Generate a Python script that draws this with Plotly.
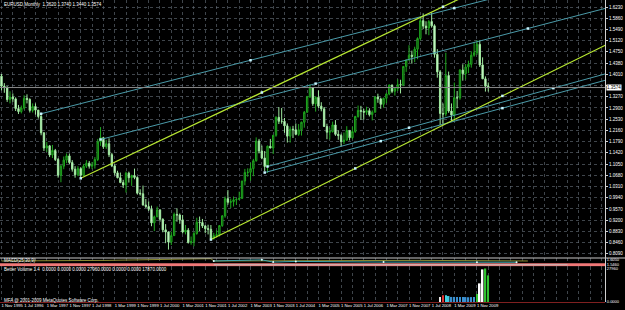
import plotly.graph_objects as go

# ---------------- data (monthly EURUSD, Nov 1995 .. Mar 2010) ----------------
FIRST_MONTH = "1995-11"
OPEN = [1.395,1.362,1.358,1.318,1.326,1.320,1.288,1.278,1.290,1.322,1.318,1.282,1.295,1.283,
        1.262,1.208,1.158,1.165,1.135,1.150,1.120,1.068,1.098,1.118,1.132,1.110,1.088,1.070,
        1.090,1.068,1.098,1.108,1.098,1.102,1.120,1.178,1.192,1.162,1.172,1.136,1.099,1.076,
        1.060,1.044,1.036,1.075,1.060,1.067,1.061,1.009,1.007,0.970,0.965,0.956,0.911,0.931,
        0.954,0.923,0.888,0.881,0.848,0.869,0.939,0.937,0.921,0.881,0.887,0.846,0.849,0.876,
        0.913,0.912,0.901,0.892,0.890,0.860,0.869,0.872,0.902,0.934,0.991,0.979,0.981,0.987,
        0.988,0.992,1.049,1.077,1.078,1.090,1.116,1.181,1.148,1.125,1.097,1.164,1.158,1.200,
        1.259,1.246,1.246,1.231,1.197,1.220,1.218,1.203,1.218,1.243,1.276,1.327,1.357,1.304,
        1.325,1.296,1.287,1.229,1.210,1.212,1.234,1.203,1.199,1.179,1.184,1.216,1.192,1.212,
        1.262,1.282,1.279,1.276,1.281,1.268,1.276,1.326,1.320,1.302,1.322,1.336,1.365,1.345,
        1.354,1.367,1.366,1.427,1.448,1.464,1.460,1.484,1.519,1.578,1.560,1.554,1.575,1.561,
        1.467,1.409,1.272,1.270,1.397,1.280,1.267,1.324,1.323,1.415,1.403,1.425,1.434,1.464,
        1.472,1.500,1.432,1.386,1.362]
HIGH = [1.402,1.372,1.362,1.345,1.338,1.325,1.300,1.298,1.332,1.335,1.322,1.305,1.305,1.275,
        1.268,1.210,1.178,1.168,1.168,1.155,1.125,1.102,1.130,1.140,1.140,1.118,1.098,1.098,
        1.095,1.105,1.118,1.115,1.112,1.128,1.188,1.227,1.195,1.185,1.190,1.142,1.104,1.083,
        1.077,1.053,1.080,1.080,1.070,1.090,1.064,1.022,1.034,0.990,0.982,0.968,0.935,0.965,
        0.955,0.926,0.907,0.882,0.882,0.945,0.959,0.942,0.937,0.904,0.894,0.866,0.882,0.928,
        0.932,0.924,0.904,0.905,0.904,0.878,0.887,0.904,0.937,0.998,1.019,0.991,0.998,0.993,
        1.014,1.050,1.089,1.091,1.109,1.122,1.193,1.188,1.166,1.148,1.166,1.188,1.200,1.263,
        1.293,1.290,1.257,1.239,1.229,1.231,1.239,1.237,1.245,1.280,1.330,1.367,1.358,1.329,
        1.348,1.309,1.293,1.238,1.225,1.245,1.250,1.216,1.205,1.209,1.230,1.217,1.228,1.264,
        1.298,1.297,1.287,1.294,1.289,1.282,1.329,1.337,1.324,1.324,1.340,1.368,1.368,1.355,
        1.385,1.383,1.427,1.450,1.497,1.479,1.492,1.523,1.590,1.602,1.576,1.580,1.604,1.566,
        1.484,1.415,1.305,1.472,1.410,1.305,1.374,1.346,1.418,1.434,1.435,1.446,1.477,1.508,
        1.514,1.513,1.457,1.394,1.374]
LOW = [1.348,1.340,1.310,1.305,1.310,1.280,1.270,1.272,1.285,1.305,1.275,1.275,1.268,1.255,
       1.200,1.148,1.145,1.128,1.125,1.115,1.060,1.045,1.088,1.108,1.105,1.080,1.060,1.065,
       1.058,1.065,1.092,1.090,1.088,1.090,1.115,1.165,1.155,1.155,1.128,1.095,1.068,1.058,
       1.042,1.026,1.011,1.044,1.033,1.055,1.005,1.001,0.968,0.960,0.950,0.900,0.884,0.930,
       0.915,0.880,0.844,0.823,0.838,0.868,0.915,0.908,0.876,0.873,0.843,0.839,0.834,0.872,
       0.884,0.894,0.877,0.873,0.858,0.856,0.862,0.866,0.898,0.928,0.971,0.960,0.965,0.970,
       0.988,0.990,1.035,1.063,1.050,1.065,1.113,1.140,1.121,1.081,1.076,1.157,1.138,1.195,
       1.237,1.238,1.208,1.176,1.176,1.191,1.200,1.198,1.199,1.225,1.274,1.323,1.297,1.278,
       1.290,1.279,1.228,1.187,1.186,1.209,1.198,1.185,1.164,1.171,1.182,1.183,1.187,1.208,
       1.258,1.251,1.251,1.267,1.262,1.249,1.277,1.307,1.287,1.291,1.306,1.332,1.339,1.331,
       1.346,1.338,1.362,1.409,1.447,1.436,1.441,1.451,1.513,1.550,1.533,1.530,1.555,1.456,
       1.390,1.233,1.233,1.262,1.274,1.246,1.246,1.289,1.317,1.380,1.384,1.405,1.423,1.459,
       1.465,1.425,1.386,1.344,1.344]
CLOSE = OPEN[1:] + [1.3574]

# trend lines drawn on the chart: (month, price) pairs, plus months where a handle dot sits
YELLOW_LINES = {
    "yl_upper": [("1998-03", 1.058), ("2010-06", 1.708)],
    "yl_lower": [("2002-01", 0.856), ("2013-09", 1.500)],
}
CYAN_LINES = {
    "cy_top": [("1997-01", 1.271), ("2010-06", 1.655)],
    "cy_mid": [("1998-10", 1.186), ("2013-09", 1.620)],
    "cy_low1": [("2003-09", 1.097), ("2013-09", 1.404)],
    "cy_low2": [("2003-08", 1.077), ("2013-09", 1.383)],
}
LINE_DOTS = {
    "yl_upper": ["1998-03", "2003-07", "2008-11"],
    "yl_lower": ["2002-01", "2006-04", "2010-08"],
    "cy_top": ["1997-01", "2003-03", "2009-03"],
    "cy_mid": ["1998-10", "2005-02", "2011-05"],
    "cy_low1": ["2003-09", "2007-11", "2012-02"],
    "cy_low2": ["2003-08", "2007-01", "2010-08"],
}

PRICE_TICKS = [1.6230, 1.5860, 1.5490, 1.5120, 1.4750, 1.4380, 1.4010, 1.3640, 1.3270, 1.2900,
               1.2530, 1.2160, 1.1790, 1.1420, 1.1050, 1.0680, 1.0310, 0.9940, 0.9570, 0.9200,
               0.8830, 0.8460, 0.8090]
X_LABELS = ["1 Nov 1995", "1 Jul 1996", "1 Mar 1997", "1 Nov 1997", "1 Jul 1998", "1 Mar 1999",
            "1 Nov 1999", "1 Jul 2000", "1 Mar 2001", "1 Nov 2001", "1 Jul 2002", "1 Mar 2003",
            "1 Nov 2003", "1 Jul 2004", "1 Mar 2005", "1 Nov 2005", "1 Jul 2006", "1 Mar 2007",
            "1 Nov 2007", "1 Jul 2008", "1 Mar 2009", "1 Nov 2009"]

# indicator window lines : (month, value)
IND_OLIVE = [("1995-11", 1.585), ("1999-01", 1.592), ("2000-11", 1.605), ("2001-11", 1.612),
             ("2002-01", 1.612), ("2002-02", 1.585), ("2005-01", 1.588), ("2008-03", 1.592),
             ("2011-05", 1.585)]
IND_CYAN = [("2002-02", 1.585), ("2003-07", 1.598), ("2003-11", 1.572), ("2004-07", 1.580),
            ("2007-02", 1.572), ("2009-11", 1.570), ("2011-01", 1.570)]
IND_BASE = 1.540
VOL_MONTHS = ["2008-10", "2008-11", "2008-12", "2009-01", "2009-02", "2009-03", "2009-04",
              "2009-05", "2009-06", "2009-07", "2009-08", "2009-09", "2009-10", "2009-11",
              "2009-12", "2010-01", "2010-02", "2010-03"]
VOLUME = [3300, 4600, 4600, 4000, 3400, 3400, 3400, 3300, 3400, 3300, 3200, 3300, 3300, 5300,
          12500, 21900, 22500, 17870]
VOL_COLORS = ["#e8e8e8", "#e03030", "#40d0e0", "#40c8e0", "#3a90d0", "#3a90d0", "#3a90d0",
              "#3a90d0", "#3a90d0", "#3a90d0", "#3a90d0", "#3a90d0", "#3a90d0", "#30c030",
              "#ffffff", "#ffffff", "#30c030", "#30c030"]


def midx(s):
    y, m = map(int, s.split("-"))
    y0, m0 = map(int, FIRST_MONTH.split("-"))
    return (y - y0) * 12 + (m - m0)


MON = {"Jan": 1, "Feb": 2, "Mar": 3, "Apr": 4, "May": 5, "Jun": 6, "Jul": 7, "Aug": 8,
       "Sep": 9, "Oct": 10, "Nov": 11, "Dec": 12}


def label_idx(lbl):
    _, mon, yr = lbl.split()
    return midx(f"{yr}-{MON[mon]:02d}")


def on_line(pts, month):
    (a, pa), (b, pb) = pts
    xa, xb = midx(a), midx(b)
    t = (midx(month) - xa) / (xb - xa)
    return pa + t * (pb - pa)


N = len(CLOSE)
X = list(range(N))

# ---------------- geometry ----------------
W, H = 625, 310
XR = [-0.53, 213.25]
PLOT_R = 605 / W
Y_MAIN = [0.7952, 1.6461]
GRID = "rgba(105,115,125,0.6)"
FONT = "Liberation Sans"

fig = go.Figure()

fig.add_trace(go.Candlestick(
    x=X, open=OPEN, high=HIGH, low=LOW, close=CLOSE,
    increasing=dict(line=dict(color="#1fa81f", width=1), fillcolor="#0b3a0b"),
    decreasing=dict(line=dict(color="#9ee89e", width=1), fillcolor="#e4ffe4"),
    whiskerwidth=0, hoverinfo="skip", xaxis="x", yaxis="y"))

ALL_LINES = {}
for key, ln in CYAN_LINES.items():
    ALL_LINES[key] = ln
    fig.add_trace(go.Scatter(x=[midx(a) for a, _ in ln], y=[b for _, b in ln], mode="lines",
                             line=dict(color="#4a9aa8", width=1), xaxis="x", yaxis="y",
                             hoverinfo="skip"))
for key, ln in YELLOW_LINES.items():
    ALL_LINES[key] = ln
    fig.add_trace(go.Scatter(x=[midx(a) for a, _ in ln], y=[b for _, b in ln], mode="lines",
                             line=dict(color="#b8e832", width=1.2), xaxis="x", yaxis="y",
                             hoverinfo="skip"))
dx, dy = [], []
for key, months in LINE_DOTS.items():
    for mo in months:
        dx.append(midx(mo))
        dy.append(on_line(ALL_LINES[key], mo))
fig.add_trace(go.Scatter(x=dx, y=dy, mode="markers",
                         marker=dict(symbol="square", size=2.5, color="#c8f4ff"),
                         xaxis="x", yaxis="y", hoverinfo="skip"))

# bid line
fig.add_shape(type="line", xref="x", yref="y", x0=XR[0], x1=XR[1], y0=CLOSE[-1], y1=CLOSE[-1],
              line=dict(color="#8a8a8a", width=1))

# indicator window
fig.add_trace(go.Scatter(x=[XR[0] - 1, XR[1] + 1], y=[IND_BASE, IND_BASE], mode="lines",
                         line=dict(color="#f07878", width=3), xaxis="x2", yaxis="y2",
                         hoverinfo="skip", cliponaxis=False))
fig.add_trace(go.Scatter(x=[midx("2002-02"), midx("2012-07")], y=[IND_BASE, IND_BASE],
                         mode="lines", line=dict(color="#c0c0c0", width=1), xaxis="x2",
                         yaxis="y2", hoverinfo="skip"))
fig.add_trace(go.Scatter(x=[midx(a) for a, _ in IND_OLIVE], y=[b for _, b in IND_OLIVE],
                         mode="lines", line=dict(color="#8a8a30", width=1), xaxis="x2",
                         yaxis="y2", hoverinfo="skip"))
fig.add_trace(go.Scatter(x=[midx(a) for a, _ in IND_CYAN], y=[b for _, b in IND_CYAN],
                         mode="lines+markers", line=dict(color="#40a8b0", width=1),
                         marker=dict(size=2, color="#e0ffff"), xaxis="x2", yaxis="y2",
                         hoverinfo="skip"))

# volume window
fig.add_trace(go.Bar(x=[midx(m) for m in VOL_MONTHS], y=VOLUME, marker=dict(color=VOL_COLORS,
                     line=dict(width=0)), width=0.55, xaxis="x3", yaxis="y3", hoverinfo="skip"))

tick_x = list(range(0, 214, 4))
lab_pos = {label_idx(l): l for l in X_LABELS}
tick_t = [lab_pos.get(v, "") for v in tick_x]

common_x = dict(range=XR, domain=[0, PLOT_R], showgrid=True, gridcolor=GRID, griddash="dot",
                gridwidth=1, zeroline=False, tickvals=tick_x, showline=False, automargin=False)
fig.update_layout(
    width=W, height=H, margin=dict(l=0, r=0, t=0, b=0, autoexpand=False),
    paper_bgcolor="black", plot_bgcolor="black", showlegend=False,
    font=dict(family=FONT, color="white", size=5),
    bargap=0.4,
    xaxis=dict(**common_x, anchor="y", showticklabels=False, rangeslider=dict(visible=False)),
    xaxis2=dict(**common_x, anchor="y2", showticklabels=False, matches="x"),
    xaxis3=dict(**common_x, anchor="y3", matches="x", ticktext=tick_t, showticklabels=True,
                ticks="", tickangle=0, tickfont=dict(size=4.2, color="white"),
                ticklabelposition="outside right"),
    yaxis=dict(domain=[1 - 258 / H, 1], range=Y_MAIN, side="right", tickvals=PRICE_TICKS,
               ticktext=[("" if abs(v - CLOSE[-1]) < 0.012 else f"{v:.4f}") for v in PRICE_TICKS],
               showgrid=True, gridcolor=GRID, griddash="dot", zeroline=False, automargin=False,
               showline=True, linecolor="#d0d0d0", linewidth=1, ticks="outside", ticklen=2,
               tickcolor="#d0d0d0", tickfont=dict(size=4.5, color="white")),
    yaxis2=dict(domain=[1 - 266.5 / H, 1 - 258 / H], range=[1.52, 1.62], side="right",
                tickvals=[1.605, 1.548], ticktext=["1.6050", "1.5460"], showgrid=False,
                zeroline=False, showline=True, linecolor="#d0d0d0", ticks="", automargin=False,
                tickfont=dict(size=4, color="white")),
    yaxis3=dict(domain=[1 - 302 / H, 1 - 267 / H], range=[0, 23500], side="right",
                tickvals=[22300, 0], ticktext=["27960", "0.0000"], showgrid=False,
                zeroline=False, showline=True, linecolor="#d0d0d0", ticks="", automargin=False,
                tickfont=dict(size=4, color="white")),
)

# panel separator and bottom line
fig.add_shape(type="line", xref="paper", yref="paper", x0=0, x1=1, y0=1 - 258 / H,
              y1=1 - 258 / H, line=dict(color="#c8c8c8", width=1))
fig.add_shape(type="line", xref="paper", yref="paper", x0=0, x1=PLOT_R, y0=1 - 302.5 / H,
              y1=1 - 302.5 / H, line=dict(color="#802020", width=1))

# current price label
fig.add_annotation(xref="paper", yref="y", x=PLOT_R + 0.002, y=CLOSE[-1], xanchor="left",
                   text=f"{CLOSE[-1]:.4f}", showarrow=False, bgcolor="white",
                   font=dict(size=4.5, color="black"), borderpad=0)

o, h, l, c = OPEN[-1], HIGH[-1], LOW[-1], CLOSE[-1]
texts = [
    (2, 4, f"EURUSD,Monthly  {o:.4f} {h:.4f} {l:.4f} {c:.4f}"),
    (2, 260.5, "MACD(25,30,9)"),
    (2, 269.5, "Better Volume 1.4  0.0000 0.0000 0.0000 27960.0000 0.0000 0.0000 17870.0000"),
    (2, 300, "MFA @ 2001-2009 MetaQuotes Software Corp."),
]
for xx, yy, t in texts:
    fig.add_annotation(xref="paper", yref="paper", x=xx / W, y=1 - yy / H, text=t,
                       showarrow=False, xanchor="left", yanchor="middle",
                       font=dict(size=4.5, color="white"))

fig.write_html("out.html")
